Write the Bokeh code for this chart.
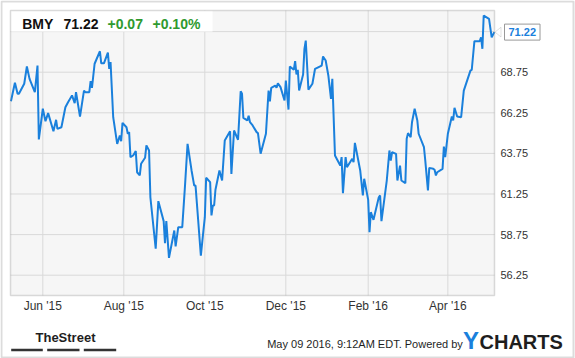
import pandas as pd
from bokeh.plotting import figure
from bokeh.models import (Range1d, Label, LabelSet, BoxAnnotation, PolyAnnotation,
                          ColumnDataSource)
from bokeh.core.properties import value, field
from bokeh.embed import file_html
from bokeh.resources import INLINE

# ---------------- data ----------------
dates = [
    "2015-05-08", "2015-05-11", "2015-05-13", "2015-05-14", "2015-05-18", "2015-05-20",
    "2015-05-22", "2015-05-26", "2015-05-28", "2015-05-29", "2015-06-01", "2015-06-03",
    "2015-06-05", "2015-06-09", "2015-06-11", "2015-06-12", "2015-06-15", "2015-06-18",
    "2015-06-20", "2015-06-23", "2015-06-25", "2015-06-26", "2015-06-29", "2015-07-02",
    "2015-07-03", "2015-07-06", "2015-07-07", "2015-07-08", "2015-07-10", "2015-07-14",
    "2015-07-15", "2015-07-17", "2015-07-20", "2015-07-21", "2015-07-22", "2015-07-24",
    "2015-07-27", "2015-07-29", "2015-07-30", "2015-07-31", "2015-08-03", "2015-08-04",
    "2015-08-05", "2015-08-06", "2015-08-08", "2015-08-10", "2015-08-11", "2015-08-13",
    "2015-08-14", "2015-08-17", "2015-08-18", "2015-08-20", "2015-08-21", "2015-08-25",
    "2015-08-27", "2015-08-31", "2015-09-01", "2015-09-02", "2015-09-04", "2015-09-08",
    "2015-09-09", "2015-09-11", "2015-09-14", "2015-09-16", "2015-09-18", "2015-09-21",
    "2015-09-23", "2015-09-24", "2015-09-26", "2015-09-28", "2015-09-30", "2015-10-01",
    "2015-10-02", "2015-10-05", "2015-10-06", "2015-10-07", "2015-10-08", "2015-10-09",
    "2015-10-12", "2015-10-14", "2015-10-16", "2015-10-20", "2015-10-21", "2015-10-23",
    "2015-10-26", "2015-10-28", "2015-10-29", "2015-10-30", "2015-11-02", "2015-11-03",
    "2015-11-04", "2015-11-06", "2015-11-09", "2015-11-10", "2015-11-12", "2015-11-16",
    "2015-11-18", "2015-11-19", "2015-11-20", "2015-11-23", "2015-11-24", "2015-11-25",
    "2015-11-27", "2015-11-30", "2015-12-01", "2015-12-03", "2015-12-04", "2015-12-07",
    "2015-12-08", "2015-12-09", "2015-12-10", "2015-12-11", "2015-12-14", "2015-12-15",
    "2015-12-16", "2015-12-18", "2015-12-21", "2015-12-23", "2015-12-28", "2015-12-29",
    "2015-12-31", "2016-01-02", "2016-01-04", "2016-01-05", "2016-01-07", "2016-01-11",
    "2016-01-12", "2016-01-13", "2016-01-15", "2016-01-16", "2016-01-20", "2016-01-21",
    "2016-01-22", "2016-01-26", "2016-01-28", "2016-01-29", "2016-02-01", "2016-02-02",
    "2016-02-03", "2016-02-05", "2016-02-09", "2016-02-10", "2016-02-11", "2016-02-15",
    "2016-02-17", "2016-02-18", "2016-02-19", "2016-02-22", "2016-02-23", "2016-02-25",
    "2016-02-26", "2016-02-29", "2016-03-01", "2016-03-02", "2016-03-04", "2016-03-05",
    "2016-03-07", "2016-03-09", "2016-03-10", "2016-03-14", "2016-03-15", "2016-03-17",
    "2016-03-18", "2016-03-21", "2016-03-22", "2016-03-23", "2016-03-24", "2016-03-28",
    "2016-03-29", "2016-03-30", "2016-04-01", "2016-04-04", "2016-04-05", "2016-04-06",
    "2016-04-08", "2016-04-11", "2016-04-13", "2016-04-18", "2016-04-19", "2016-04-21",
    "2016-04-25", "2016-04-26", "2016-04-27", "2016-04-28", "2016-05-02", "2016-05-04",
    "2016-05-06",
]
prices = [
    66.96, 68.10, 67.42, 67.42, 68.04, 69.10,
    68.34, 67.52, 69.16, 64.61, 66.50, 65.73,
    66.23, 65.12, 65.82, 65.26, 65.36, 66.59,
    66.90, 67.32, 66.84, 67.52, 66.02, 67.62,
    67.52, 67.52, 68.20, 67.79, 69.27, 70.04,
    69.30, 69.30, 69.96, 68.96, 69.37, 65.98,
    64.34, 64.85, 64.50, 65.63, 65.36, 64.96,
    65.06, 63.52, 63.62, 63.89, 62.59, 62.39,
    63.11, 63.48, 64.24, 63.93, 61.05, 57.88,
    60.81, 59.58, 58.22, 59.58, 57.32, 59.00,
    58.02, 59.21, 59.21, 61.67, 64.34, 62.70,
    61.77, 61.77, 59.62, 57.46, 59.05, 59.82,
    62.25, 61.98, 59.93, 60.54, 60.54, 61.51,
    62.70, 62.08, 64.54, 65.12, 62.49, 65.16,
    64.59, 67.58, 67.42, 65.94, 65.78, 66.07,
    65.67, 65.47, 65.06, 65.00, 63.73, 64.96,
    67.62, 66.96, 67.79, 67.93, 67.79, 68.07,
    67.83, 67.01, 68.24, 66.45, 69.10, 68.90,
    69.43, 68.61, 68.90, 67.62, 68.61, 70.19,
    70.70, 67.68, 68.04, 68.96, 69.16, 69.72,
    69.47, 68.55, 67.11, 68.34, 63.62, 63.00,
    63.52, 61.30, 63.52, 62.90, 63.42, 63.21,
    64.40, 62.70, 61.16, 62.19, 60.89, 58.90,
    60.13, 59.66, 61.05, 61.16, 59.58, 62.08,
    63.93, 63.31, 63.82, 63.72, 62.08, 63.00,
    62.08, 61.92, 64.65, 65.00, 64.75, 65.67,
    66.50, 65.78, 64.96, 64.13, 63.31, 61.47,
    62.86, 62.80, 62.74, 62.39, 62.59, 62.80,
    64.17, 63.52, 64.96, 66.02, 65.78, 66.56,
    66.02, 65.98, 67.62, 68.85, 68.90, 70.66,
    70.66, 70.90, 70.19, 72.24, 72.04, 70.90,
    71.22,
]
tick_dates = ["2015-06-01", "2015-08-01", "2015-10-01", "2015-12-01", "2016-02-01", "2016-04-01"]
tick_labels = ["Jun '15", "Aug '15", "Oct '15", "Dec '15", "Feb '16", "Apr '16"]
y_ticks = [56.25, 58.75, 61.25, 63.75, 66.25, 68.75]
y_tick_labels = ["56.25", "58.75", "61.25", "63.75", "66.25", "68.75"]
y_grid_ticks = [56.25, 58.75, 61.25, 63.75, 66.25, 68.75, 71.25]
symbol = "BMY"
last_price = 71.22
change = "+0.07"
change_pct = "+0.10%"
footer_text = "May 09 2016, 9:12AM EDT.  Powered by"

# visible data window of the plot area
view_start, view_end = "2015-05-07 16:00", "2016-05-06 03:00"
view_ymin, view_ymax = 55.0, 72.55

# ---------------- layout (pixels) ----------------
W, H = 575, 358
PL, PR, PT, PB = 10, 494, 10, 295      # plot-area box on the canvas
FONT = "Liberation Sans"
BLUE = "#1a80dc"
GREEN = "#2f9a2f"
DARK = "#1e1e1e"

def ms(s):
    return pd.Timestamp(s).value / 1e6

x0, x1 = ms(view_start), ms(view_end)
kx = (x1 - x0) / (PR - PL)
ky = (view_ymax - view_ymin) / (PB - PT)
x_range = Range1d(x0 - PL * kx, x1 + (W - PR) * kx)
y_range = Range1d(view_ymin - (H - PB) * ky, view_ymax + PT * ky)

p = figure(width=W, height=H, x_range=x_range, y_range=y_range,
           x_axis_location=None, y_axis_location=None,
           output_backend="svg", toolbar_location=None, min_border=0)
p.xgrid.visible = False
p.ygrid.visible = False
p.outline_line_color = None
p.background_fill_color = "white"
p.border_fill_color = "white"

def cbox(l, r, t, b, **kw):
    return BoxAnnotation(left=l, right=r, top=t, bottom=b,
                         left_units="canvas", right_units="canvas",
                         top_units="canvas", bottom_units="canvas", **kw)

# plot-area background
p.add_layout(cbox(PL, PR, PT, PB, fill_color="#f6f6f6", fill_alpha=1,
                  line_color=None, level="image"))

# grid lines (through the data scales)
tick_ms = [ms(d) for d in tick_dates]
p.segment(x0=tick_ms, x1=tick_ms, y0=[view_ymin] * len(tick_ms),
          y1=[view_ymax] * len(tick_ms), line_color="#d9d9d9", line_width=1)
p.segment(x0=[x0] * len(y_grid_ticks), x1=[x1] * len(y_grid_ticks),
          y0=y_grid_ticks, y1=y_grid_ticks, line_color="#d9d9d9", line_width=1)

# price line
src = ColumnDataSource(dict(date=pd.to_datetime(dates), price=prices))
p.line(x="date", y="price", source=src, line_color=BLUE, line_width=2)

# header box + plot-area frame
p.add_layout(cbox(PL, 212, PT, 31, fill_color="white", fill_alpha=1, line_color=None))
p.add_layout(cbox(PL, PR, PT, PB, fill_alpha=0, line_color="#8a8a8a", line_width=1.5))

# axis tick labels
xt = ColumnDataSource(dict(x=tick_ms, text=tick_labels))
p.add_layout(LabelSet(x="x", y=309.5, x_units="data", y_units="canvas", text="text",
                      source=xt, text_align="center", text_baseline="alphabetic",
                      text_font=value(FONT), text_font_size="12px", text_color="#333333"))
yt = ColumnDataSource(dict(y=y_ticks, text=y_tick_labels))
p.add_layout(LabelSet(x=500, y="y", x_units="canvas", y_units="data", text="text",
                      source=yt, text_align="left", text_baseline="middle",
                      text_font=value(FONT), text_font_size="11px", text_color="#333333"))

# header and footer texts (canvas pixel positions, alphabetic baseline)
deco = ColumnDataSource(dict(
    x=[21.7, 63, 107, 152, 266.7, 462.5, 479, 35],
    y=[28, 28, 28, 28, 347.5, 348.5, 348.3, 341],
    text=[symbol, f"{last_price:.2f}", change, change_pct, footer_text, "Y", "CHARTS", "TheStreet"],
    size=["14px", "14px", "14px", "14px", "11px", "24px", "20px", "13px"],
    color=["#111111", "#111111", GREEN, GREEN, DARK, BLUE, DARK, DARK],
    style=["bold", "bold", "bold", "bold", "normal", "bold", "bold", "bold"],
))
p.add_layout(LabelSet(x="x", y="y", x_units="canvas", y_units="canvas", text="text",
                      source=deco, text_align="left", text_baseline="alphabetic",
                      text_font=value(FONT), text_font_size=field("size"),
                      text_color=field("color"), text_font_style=field("style")))

# last value callout
p.add_layout(Label(x=504, y=last_price, x_units="canvas", y_units="data",
                   text=f"{last_price:.2f}", text_font=FONT, text_font_size="11px",
                   text_color=BLUE, text_font_style="bold", text_baseline="middle",
                   background_fill_color="white", border_line_color="#999999",
                   padding=4))
p.add_layout(PolyAnnotation(xs=[500.5, 494.5, 500.5],
                            ys=[last_price + 0.3, last_price, last_price - 0.3],
                            xs_units="canvas", ys_units="data",
                            fill_color="white", fill_alpha=1, line_color="#999999"))

# TheStreet logo bars
for l, r in [(10.7, 42.3), (46.7, 79), (83.3, 115.7)]:
    p.add_layout(cbox(l, r, 348.3, 350.7, fill_color="#333333", fill_alpha=1, line_color=None))

# outer border
p.add_layout(cbox(1, 573, 1, 357, fill_alpha=0, line_color="#8a8a8a", line_width=2))

open("out.html", "w").write(file_html(p, INLINE))
